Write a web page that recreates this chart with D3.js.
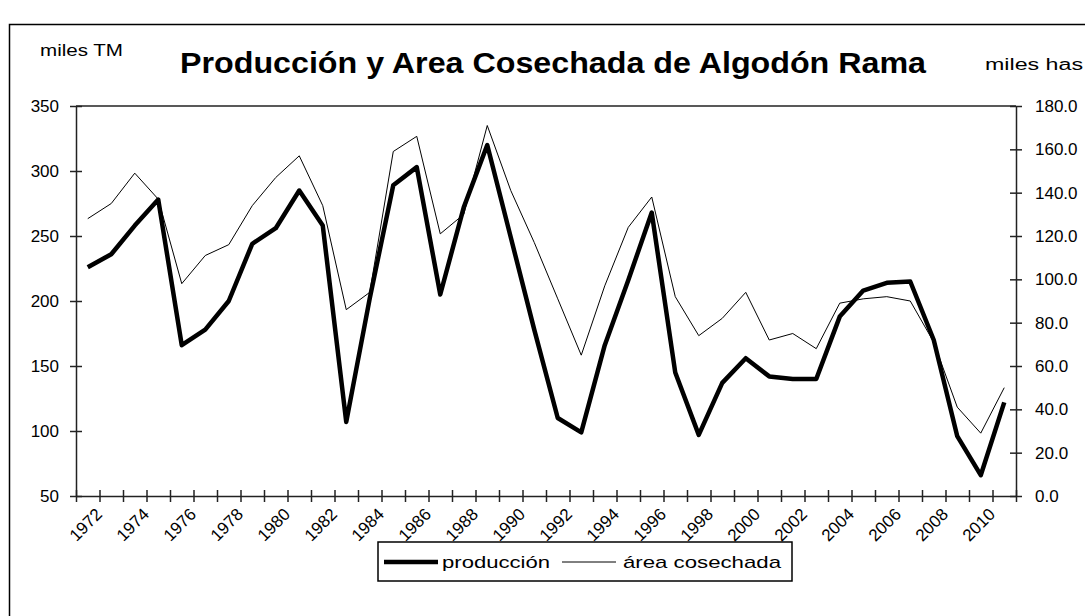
<!DOCTYPE html>
<html>
<head>
<meta charset="utf-8">
<script src="https://cdn.jsdelivr.net/npm/d3@7"></script>
<style>
  body { margin: 0; background: #fff; }
  text { font-family: "Liberation Sans", Arial, sans-serif; fill: #000; }
</style>
</head>
<body>
<script>
// data
const years = d3.range(1972, 2012);
const produccion = [226, 236, 258, 278, 166, 178, 200, 244, 256, 285,
  258, 107, 202, 289, 303, 205, 272, 320, 249, 178,
  110, 99, 166, 216, 268, 145, 97, 137, 156, 142,
  140, 140, 188, 208, 214, 215, 170, 96, 66, 122];
const area = [128, 135, 149, 137, 98, 111, 116, 134, 147, 157,
  134, 86, 94, 159, 166, 121, 130, 171, 141, 117,
  91, 65, 97, 124, 138, 92, 74, 82, 94, 72,
  75, 68, 89, 91, 92, 90, 71, 41, 29, 50];
const leftTicks = [50, 100, 150, 200, 250, 300, 350];
const rightTicks = [0, 20, 40, 60, 80, 100, 120, 140, 160, 180];
const labelYears = years.filter(y => (y - 1972) % 2 === 0);

let width = 1085,
  height = 616;

let plot = { left: 76, right: 1016, top: 106, bottom: 496 };

let svg = d3.select("body").append("svg")
  .attr("width", width)
  .attr("height", height);

// outer chart frame (runs off the picture on the right and bottom)
svg.append("rect")
  .attr("x", 9.5).attr("y", 24.5)
  .attr("width", 1200).attr("height", 700)
  .attr("fill", "none").attr("stroke", "#000").attr("stroke-width", 1.5);

let x = d3.scaleBand()
  .domain(years)
  .range([plot.left, plot.right])
  .padding(0);

let xPos = d => x(d) + x.bandwidth() / 2;

let yL = d3.scaleLinear().domain([50, 350]).range([plot.bottom, plot.top]);
let yR = d3.scaleLinear().domain([0, 180]).range([plot.bottom, plot.top]);

// plot frame top line
svg.append("line")
  .attr("x1", plot.left).attr("x2", plot.right)
  .attr("y1", plot.top).attr("y2", plot.top)
  .attr("stroke", "#222").attr("stroke-width", 1.5);

// x axis: ticks between categories, crossing the axis line
let boundary = d3.scaleLinear().domain([0, years.length]).range([plot.left, plot.right]);
let xTicks = d3.range(0, years.length + 1);

svg.append("g")
  .attr("transform", `translate(0,${plot.bottom})`)
  .call(d3.axisBottom(boundary).tickValues(xTicks).tickSize(6).tickSizeOuter(0).tickFormat(""))
  .call(g => g.selectAll("line, path").attr("stroke", "#222").attr("stroke-width", 1.5));
svg.append("g")
  .attr("transform", `translate(0,${plot.bottom})`)
  .call(d3.axisTop(boundary).tickValues(xTicks).tickSize(6).tickFormat(""))
  .call(g => g.select(".domain").remove())
  .call(g => g.selectAll("line").attr("stroke", "#222").attr("stroke-width", 1.5));

svg.append("g").selectAll("text")
  .data(labelYears)
  .enter().append("text")
  .attr("transform", d => `translate(${xPos(d) + 7},${plot.bottom + 11}) rotate(-45)`)
  .attr("text-anchor", "end")
  .attr("dy", "0.7em")
  .attr("font-size", 17)
  .text(d => d);

// left axis
svg.append("g")
  .attr("transform", `translate(${plot.left},0)`)
  .call(d3.axisLeft(yL).tickValues(leftTicks).tickSize(6).tickSizeOuter(0).tickPadding(11))
  .call(g => g.selectAll("line, path").attr("stroke", "#222").attr("stroke-width", 1.5))
  .call(g => g.selectAll("text").attr("font-size", 17).attr("font-family", "Liberation Sans"));
svg.append("g")
  .attr("transform", `translate(${plot.left},0)`)
  .call(d3.axisRight(yL).tickValues(leftTicks).tickSize(6).tickFormat(""))
  .call(g => g.select(".domain").remove())
  .call(g => g.selectAll("line").attr("stroke", "#222").attr("stroke-width", 1.5));

// right axis
svg.append("g")
  .attr("transform", `translate(${plot.right},0)`)
  .call(d3.axisRight(yR).tickValues(rightTicks).tickSize(6).tickSizeOuter(0).tickPadding(13).tickFormat(d3.format(".1f")))
  .call(g => g.selectAll("line, path").attr("stroke", "#222").attr("stroke-width", 1.5))
  .call(g => g.selectAll("text").attr("font-size", 17).attr("font-family", "Liberation Sans"));
svg.append("g")
  .attr("transform", `translate(${plot.right},0)`)
  .call(d3.axisLeft(yR).tickValues(rightTicks).tickSize(6).tickFormat(""))
  .call(g => g.select(".domain").remove())
  .call(g => g.selectAll("line").attr("stroke", "#222").attr("stroke-width", 1.5));

// series
let lineProd = d3.line()
  .x((d, i) => xPos(years[i]))
  .y(d => yL(d));
let lineArea = d3.line()
  .x((d, i) => xPos(years[i]))
  .y(d => yR(d));

svg.append("path")
  .datum(area)
  .attr("fill", "none")
  .attr("stroke", "#000")
  .attr("stroke-width", 1)
  .attr("d", lineArea);

svg.append("path")
  .datum(produccion)
  .attr("fill", "none")
  .attr("stroke", "#000")
  .attr("stroke-width", 4.5)
  .attr("stroke-linejoin", "round")
  .attr("d", lineProd);

// titles
svg.append("text")
  .attr("x", 553).attr("y", 73)
  .attr("text-anchor", "middle")
  .attr("font-size", 29)
  .attr("font-weight", "bold")
  .attr("textLength", 746)
  .attr("lengthAdjust", "spacingAndGlyphs")
  .text("Producción y Area Cosechada de Algodón Rama");

svg.append("text")
  .attr("x", 40).attr("y", 56)
  .attr("font-size", 16)
  .attr("textLength", 83)
  .attr("lengthAdjust", "spacingAndGlyphs")
  .text("miles TM");

svg.append("text")
  .attr("x", 985).attr("y", 70)
  .attr("font-size", 16)
  .attr("textLength", 98)
  .attr("lengthAdjust", "spacingAndGlyphs")
  .text("miles has");

// legend
let legend = svg.append("g").attr("transform", "translate(378,542)");
legend.append("rect")
  .attr("width", 414).attr("height", 39)
  .attr("fill", "#fff").attr("stroke", "#000").attr("stroke-width", 1.5);
legend.append("line")
  .attr("x1", 6).attr("x2", 60).attr("y1", 20).attr("y2", 20)
  .attr("stroke", "#000").attr("stroke-width", 4.5);
legend.append("text")
  .attr("x", 64).attr("y", 26)
  .attr("font-size", 17)
  .attr("textLength", 108)
  .attr("lengthAdjust", "spacingAndGlyphs")
  .text("producción");
legend.append("line")
  .attr("x1", 184).attr("x2", 238).attr("y1", 20).attr("y2", 20)
  .attr("stroke", "#000").attr("stroke-width", 1);
legend.append("text")
  .attr("x", 245).attr("y", 26)
  .attr("font-size", 17)
  .attr("textLength", 158)
  .attr("lengthAdjust", "spacingAndGlyphs")
  .text("área cosechada");
</script>
</body>
</html>
